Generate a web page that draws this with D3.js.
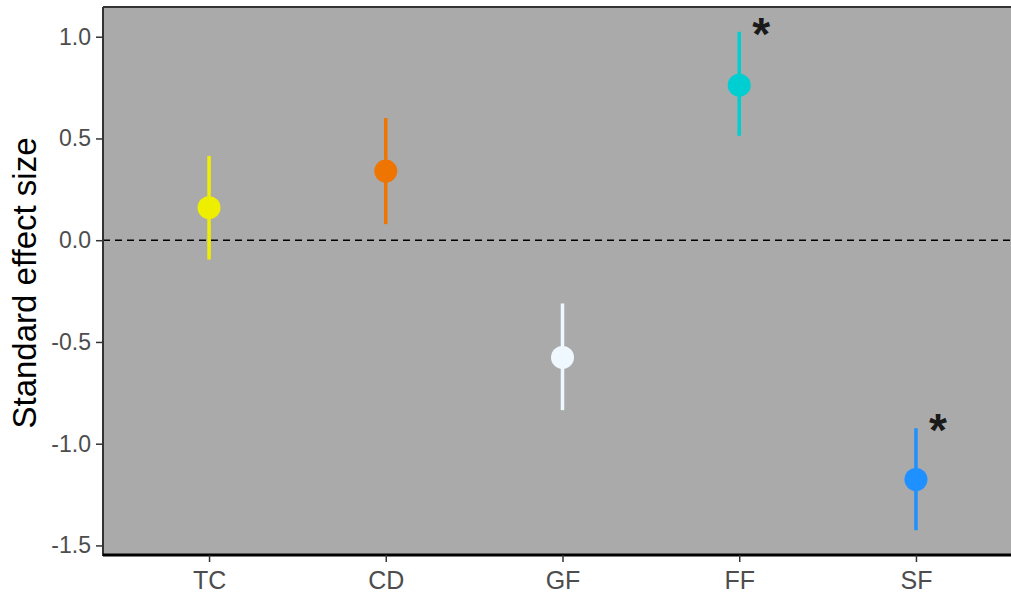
<!DOCTYPE html>
<html>
<head>
<meta charset="utf-8">
<script src="https://cdn.jsdelivr.net/npm/d3@7"></script>
<style>
  html, body { margin: 0; padding: 0; background: #ffffff; }
  svg { display: block; font-family: "Liberation Sans", Arial, sans-serif; }
</style>
</head>
<body>
<svg id="chart" width="1011" height="599"></svg>
<script>
// ---- data ----
const categories = ["TC", "CD", "GF", "FF", "SF"];
const effectSize = [0.16, 0.34, -0.576, 0.762, -1.176];
const lowerCI = [-0.095, 0.079, -0.835, 0.513, -1.425];
const upperCI = [0.414, 0.600, -0.311, 1.024, -0.924];
const significant = ["", "", "", "*", "*"];
const pointColors = ["#EEEE00", "#EE7600", "#F0F8FF", "#00CED1", "#1E90FF"];
const yTicks = [-1.5, -1.0, -0.5, 0.0, 0.5, 1.0];
const yTitle = "Standard effect size";

// ---- layout ----
const svg = d3.select("#chart");
const pLeft = 103, pTop = 7, pBottom = 555, pRight = 1022;

const x = d3.scalePoint().domain(categories).range([pLeft, pRight]).padding(0.6);
const y = d3.scaleLinear().domain([-1.547, 1.146]).range([pBottom, pTop]);

// panel background
svg.append("rect")
  .attr("x", pLeft).attr("y", pTop)
  .attr("width", pRight - pLeft).attr("height", pBottom - pTop)
  .attr("fill", "#AAAAAA");

// top border
svg.append("line")
  .attr("x1", pLeft).attr("x2", pRight).attr("y1", pTop).attr("y2", pTop)
  .attr("stroke", "#333333").attr("stroke-width", 2);

// zero reference line
svg.append("line")
  .attr("x1", pLeft).attr("x2", pRight)
  .attr("y1", y(0)).attr("y2", y(0))
  .attr("stroke", "#000000").attr("stroke-width", 1.5)
  .attr("stroke-dasharray", "7,5");

// axes
const fmt = d => d3.format(".1f")(d).replace("\u2212", "-");
const yAxis = d3.axisLeft(y).tickValues(yTicks).tickFormat(fmt).tickSize(7).tickPadding(5);
const gy = svg.append("g").attr("transform", `translate(${pLeft},0)`).call(yAxis);
gy.select(".domain").attr("stroke", "#333333").attr("stroke-width", 2)
  .attr("d", `M0,${pTop}V${pBottom + 1}`);
gy.selectAll(".tick line").attr("stroke", "#333333").attr("stroke-width", 1.5);
gy.selectAll(".tick text").attr("fill", "#4D4D4D").style("font-size", "23px")
  .attr("font-family", "Liberation Sans, Arial, sans-serif");

const xAxis = d3.axisBottom(x).tickSize(7).tickPadding(9);
const gx = svg.append("g").attr("transform", `translate(0,${pBottom})`).call(xAxis);
gx.select(".domain").attr("stroke", "#000000").attr("stroke-width", 3)
  .attr("d", `M${pLeft},0H${pRight}`);
gx.selectAll(".tick line").attr("stroke", "#333333").attr("stroke-width", 1.5);
gx.selectAll(".tick text").attr("fill", "#4D4D4D").style("font-size", "25px")
  .attr("font-family", "Liberation Sans, Arial, sans-serif");

// y title
svg.append("text")
  .attr("transform", `translate(36, ${(pTop + pBottom) / 2 + 2}) rotate(-90)`)
  .attr("text-anchor", "middle")
  .attr("fill", "#000000")
  .style("font-size", "33px")
  .text(yTitle);

// error bars and points
const rows = categories.map((c, i) => ({
  c, v: effectSize[i], lo: lowerCI[i], hi: upperCI[i], col: pointColors[i], sig: significant[i]
}));

svg.append("g").selectAll("line").data(rows).join("line")
  .attr("x1", d => x(d.c)).attr("x2", d => x(d.c))
  .attr("y1", d => y(d.lo)).attr("y2", d => y(d.hi))
  .attr("stroke", d => d.col).attr("stroke-width", 3.5);

svg.append("g").selectAll("circle").data(rows).join("circle")
  .attr("cx", d => x(d.c)).attr("cy", d => y(d.v))
  .attr("r", 11.5).attr("fill", d => d.col);

svg.append("g").selectAll("text").data(rows.filter(d => d.sig)).join("text")
  .attr("x", d => x(d.c) + 22).attr("y", d => y(d.hi) + 18)
  .attr("text-anchor", "middle")
  .attr("fill", "#1a1a1a")
  .style("font-size", "46px").style("font-weight", "bold")
  .text(d => d.sig);
</script>
</body>
</html>
